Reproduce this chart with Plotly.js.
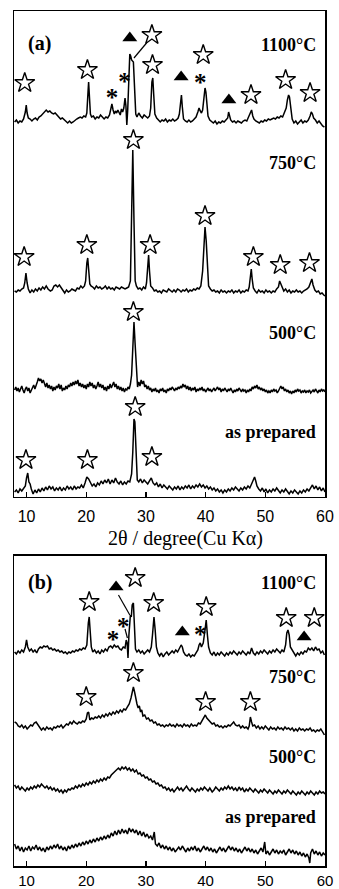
<!DOCTYPE html>
<html><head><meta charset="utf-8">
<script src="https://cdn.plot.ly/plotly-3.0.1.min.js"></script>
<style>html,body{margin:0;padding:0;background:#fff}#chart{width:339px;height:889px}</style>
</head><body><div id="chart"></div>
<script>
// ---- data (2θ in degrees, intensity in arbitrary units relative to each pattern's baseline) ----
const angleTicks = [10, 20, 30, 40, 50, 60];
const sampleLabels = ['1100°C', '750°C', '500°C', 'as prepared'];
const axisTitle = '2θ / degree(Cu Kα)';

// panel (a)
const a1100 = [[8.0,0],[8.3,2],[8.6,-1],[8.9,1],[9.2,0],[9.5,3],[9.8,10],[9.95,17],[10.1,9],[10.3,4],[10.6,3],[10.9,1],[11.2,3],[11.5,4],[11.8,2],[12.1,5],[12.4,6],[12.7,8],[13.0,11],[13.3,12],[13.6,10],[13.9,11],[14.2,9],[14.5,8],[14.8,9],[15.1,7],[15.4,6],[15.7,3],[16.0,4],[16.3,2],[16.6,0],[16.9,-1],[17.2,1],[17.5,-1],[17.8,0],[18.1,2],[18.4,3],[18.7,4],[19.0,5],[19.3,4],[19.6,6],[19.9,5],[20.1,9],[20.3,30],[20.4,40],[20.55,24],[20.7,8],[20.9,5],[21.2,6],[21.5,3],[21.8,5],[22.1,4],[22.4,7],[22.7,5],[23.0,3],[23.3,5],[23.6,4],[23.9,7],[24.1,12],[24.3,18],[24.5,12],[24.7,8],[24.9,11],[25.1,9],[25.3,12],[25.5,10],[25.7,7],[25.9,13],[26.1,10],[26.3,14],[26.5,24],[26.65,16],[26.8,-3],[26.95,12],[27.1,45],[27.3,68],[27.45,66],[27.6,62],[27.9,60],[28.1,35],[28.3,8],[28.5,5],[28.8,9],[29.1,6],[29.4,4],[29.7,7],[30.0,5],[30.3,4],[30.6,6],[30.8,14],[31.0,40],[31.15,44],[31.3,28],[31.5,8],[31.8,4],[32.1,2],[32.4,0],[32.7,2],[33.0,1],[33.3,3],[33.6,0],[33.9,2],[34.2,1],[34.5,3],[34.8,1],[35.1,2],[35.4,4],[35.6,8],[35.8,24],[35.95,27],[36.1,15],[36.3,3],[36.6,1],[36.9,0],[37.2,2],[37.5,0],[37.8,1],[38.1,3],[38.4,5],[38.7,10],[38.9,14],[39.1,11],[39.3,9],[39.5,12],[39.7,22],[39.9,34],[40.05,30],[40.2,16],[40.4,6],[40.7,2],[41.0,0],[41.3,-1],[41.6,1],[41.9,-2],[42.2,0],[42.5,-1],[42.8,1],[43.1,0],[43.4,2],[43.7,4],[43.85,10],[44.0,6],[44.2,2],[44.5,0],[44.8,1],[45.1,-1],[45.4,1],[45.7,0],[46.0,-1],[46.3,1],[46.6,2],[46.9,1],[47.2,5],[47.5,10],[47.7,12],[47.9,6],[48.1,3],[48.4,1],[48.7,0],[49.0,-1],[49.3,1],[49.6,0],[49.9,2],[50.2,1],[50.5,3],[50.8,2],[51.1,3],[51.4,4],[51.7,3],[52.0,5],[52.3,4],[52.6,6],[52.9,5],[53.2,10],[53.5,14],[53.7,22],[53.9,27],[54.05,25],[54.25,12],[54.5,3],[54.8,-1],[55.1,1],[55.4,-2],[55.7,0],[56.0,2],[56.3,-1],[56.6,1],[56.9,0],[57.2,2],[57.5,6],[57.7,10],[57.9,8],[58.1,4],[58.4,2],[58.7,-1],[59.0,1],[59.3,-2],[59.6,-4],[59.9,-5]];
const a750 = [[8.0,0],[8.3,-1],[8.6,1],[8.9,0],[9.2,2],[9.5,3],[9.7,8],[9.9,18],[10.1,8],[10.3,2],[10.6,-2],[10.9,1],[11.2,-1],[11.5,2],[11.8,0],[12.1,3],[12.4,1],[12.7,4],[13.0,2],[13.3,5],[13.6,2],[14.0,0],[14.3,1],[14.6,5],[14.9,6],[15.2,4],[15.5,6],[15.8,3],[16.1,0],[16.4,-2],[16.7,1],[17.0,-1],[17.3,0],[17.6,2],[17.9,1],[18.2,0],[18.5,3],[18.8,2],[19.1,5],[19.4,3],[19.7,5],[19.9,10],[20.1,28],[20.25,33],[20.4,22],[20.6,7],[20.8,5],[21.1,4],[21.4,2],[21.7,5],[22.0,3],[22.3,4],[22.6,2],[22.9,3],[23.2,5],[23.5,2],[23.8,4],[24.1,2],[24.4,3],[24.7,1],[25.0,4],[25.3,3],[25.6,2],[25.9,4],[26.2,3],[26.5,2],[26.8,3],[27.1,4],[27.4,10],[27.6,70],[27.8,141],[28.0,70],[28.2,10],[28.4,5],[28.7,2],[29.0,3],[29.3,1],[29.6,4],[29.9,2],[30.1,8],[30.3,30],[30.45,36],[30.6,20],[30.8,5],[31.1,3],[31.4,0],[31.7,1],[32.0,-1],[32.3,0],[32.6,-2],[32.9,1],[33.2,0],[33.5,-1],[33.8,2],[34.1,0],[34.4,-1],[34.7,1],[35.0,-1],[35.3,2],[35.6,1],[35.9,-1],[36.2,1],[36.5,0],[36.8,2],[37.1,-1],[37.4,1],[37.7,0],[38.0,2],[38.3,1],[38.6,3],[38.9,2],[39.2,5],[39.5,20],[39.7,50],[39.9,64],[40.1,50],[40.3,20],[40.5,5],[40.8,2],[41.1,0],[41.4,1],[41.7,-1],[42.0,0],[42.3,-2],[42.6,1],[42.9,-1],[43.2,0],[43.5,-2],[43.8,0],[44.1,-1],[44.4,1],[44.7,-2],[45.0,0],[45.3,-1],[45.6,1],[45.9,-2],[46.2,0],[46.5,-1],[46.8,1],[47.1,0],[47.3,4],[47.5,18],[47.65,22],[47.8,12],[48.0,3],[48.3,0],[48.6,-2],[48.9,1],[49.2,-1],[49.5,0],[49.8,-2],[50.1,1],[50.4,-1],[50.7,0],[51.0,-2],[51.3,0],[51.6,-1],[51.9,2],[52.2,4],[52.4,10],[52.6,7],[52.8,3],[53.1,0],[53.4,2],[53.7,-1],[54.0,1],[54.3,-2],[54.6,0],[54.9,-1],[55.2,1],[55.5,-1],[55.8,0],[56.1,-2],[56.4,0],[56.7,1],[57.0,2],[57.3,4],[57.6,10],[57.8,12],[58.0,6],[58.3,1],[58.6,-1],[58.9,0],[59.2,-3],[59.5,-2],[59.8,-4],[60.0,-5]];
const a500 = [[8.0,0],[8.2,3],[8.4,-1],[8.6,2],[8.8,-2],[9.0,1],[9.2,4],[9.4,0],[9.6,-3],[9.8,1],[10.0,3],[10.2,-1],[10.4,2],[10.6,-3],[10.8,0],[11.0,2],[11.2,5],[11.4,1],[11.6,4],[11.8,8],[12.0,12],[12.2,9],[12.4,11],[12.6,7],[12.8,10],[13.0,6],[13.2,3],[13.4,7],[13.6,2],[13.8,5],[14.0,1],[14.2,4],[14.4,-1],[14.6,3],[14.8,0],[15.0,4],[15.2,2],[15.4,6],[15.6,1],[15.8,5],[16.0,-1],[16.2,2],[16.4,0],[16.6,4],[16.8,1],[17.0,5],[17.2,3],[17.4,7],[17.6,4],[17.8,8],[18.0,5],[18.2,9],[18.4,6],[18.6,10],[18.8,4],[19.0,7],[19.2,3],[19.4,6],[19.6,2],[19.8,5],[20.0,1],[20.2,6],[20.4,3],[20.6,8],[20.8,4],[21.0,7],[21.2,2],[21.4,5],[21.6,1],[21.8,4],[22.0,8],[22.2,3],[22.4,6],[22.6,2],[22.8,5],[23.0,0],[23.2,3],[23.4,-1],[23.6,4],[23.8,1],[24.0,6],[24.2,2],[24.4,5],[24.6,8],[24.8,3],[25.0,6],[25.2,1],[25.4,4],[25.6,0],[25.8,3],[26.0,-1],[26.2,2],[26.4,-2],[26.6,1],[26.8,0],[27.0,3],[27.2,1],[27.4,6],[27.6,15],[27.8,45],[28.0,68],[28.2,45],[28.4,15],[28.6,3],[28.8,8],[29.0,4],[29.2,10],[29.4,6],[29.6,9],[29.8,3],[30.0,5],[30.2,1],[30.4,4],[30.6,0],[30.8,2],[31.0,-2],[31.2,1],[31.4,-1],[31.6,2],[31.8,-2],[32.0,0],[32.2,-3],[32.4,1],[32.6,-1],[32.8,2],[33.0,-2],[33.2,0],[33.4,-3],[33.6,1],[33.8,-1],[34.0,2],[34.2,0],[34.4,3],[34.6,1],[34.8,-1],[35.0,2],[35.2,0],[35.4,3],[35.6,1],[35.8,4],[36.0,2],[36.2,6],[36.4,3],[36.6,5],[36.8,1],[37.0,4],[37.2,0],[37.4,3],[37.6,-1],[37.8,2],[38.0,0],[38.2,3],[38.4,-2],[38.6,1],[38.8,-1],[39.0,2],[39.2,0],[39.4,3],[39.6,-1],[39.8,1],[40.0,-2],[40.2,0],[40.4,2],[40.6,-1],[40.8,1],[41.0,-2],[41.2,0],[41.4,2],[41.6,-1],[41.8,1],[42.0,3],[42.2,0],[42.4,2],[42.6,-2],[42.8,1],[43.0,-1],[43.2,2],[43.4,0],[43.6,-2],[43.8,1],[44.0,-1],[44.2,2],[44.4,0],[44.6,-3],[44.8,0],[45.0,-2],[45.2,1],[45.4,-1],[45.6,2],[45.8,0],[46.0,-2],[46.2,1],[46.4,-1],[46.6,0],[46.8,-3],[47.0,0],[47.2,-2],[47.4,1],[47.6,-1],[47.8,3],[48.0,1],[48.2,4],[48.4,2],[48.6,5],[48.8,1],[49.0,3],[49.2,0],[49.4,2],[49.6,-1],[49.8,1],[50.0,-2],[50.2,0],[50.4,-3],[50.6,-1],[50.8,-3],[51.0,0],[51.2,-2],[51.4,1],[51.6,-1],[51.8,0],[52.0,-3],[52.2,-1],[52.4,2],[52.6,4],[52.8,1],[53.0,3],[53.2,-1],[53.4,1],[53.6,-2],[53.8,0],[54.0,-3],[54.2,-1],[54.4,-4],[54.6,-1],[54.8,-3],[55.0,0],[55.2,-2],[55.4,1],[55.6,-1],[55.8,0],[56.0,-3],[56.2,-1],[56.4,-2],[56.6,0],[56.8,-3],[57.0,-1],[57.2,-2],[57.4,0],[57.6,-3],[57.8,-1],[58.0,0],[58.2,-2],[58.4,1],[58.6,-1],[58.8,-3],[59.0,0],[59.2,-2],[59.4,1],[59.6,-1],[59.8,0],[60.0,-2]];
const aPrep = [[8.0,0],[8.3,2],[8.6,-1],[8.9,3],[9.2,1],[9.5,4],[9.8,6],[10.0,14],[10.2,19],[10.4,10],[10.6,8],[10.8,3],[11.1,-2],[11.4,2],[11.7,-1],[12.0,3],[12.3,0],[12.6,4],[12.9,1],[13.2,5],[13.5,2],[13.8,6],[14.1,3],[14.4,5],[14.7,1],[15.0,4],[15.3,2],[15.6,5],[15.9,1],[16.2,4],[16.5,2],[16.8,6],[17.1,3],[17.4,5],[17.7,2],[18.0,6],[18.3,3],[18.6,5],[18.9,4],[19.2,7],[19.5,4],[19.8,9],[20.1,15],[20.4,13],[20.7,9],[21.0,6],[21.3,8],[21.6,5],[21.9,9],[22.2,7],[22.5,11],[22.8,8],[23.1,12],[23.4,9],[23.7,13],[24.0,8],[24.3,12],[24.6,9],[24.9,14],[25.2,10],[25.5,8],[25.8,11],[26.1,7],[26.4,10],[26.7,8],[27.0,11],[27.3,10],[27.6,18],[27.8,40],[28.0,73],[28.15,70],[28.35,30],[28.55,12],[28.8,10],[29.1,13],[29.4,9],[29.7,12],[30.0,10],[30.3,8],[30.6,11],[30.9,14],[31.2,9],[31.5,7],[31.8,9],[32.1,5],[32.4,8],[32.7,4],[33.0,7],[33.3,5],[33.6,3],[33.9,6],[34.2,4],[34.5,2],[34.8,5],[35.1,3],[35.4,6],[35.7,2],[36.0,5],[36.3,3],[36.6,6],[36.9,4],[37.2,7],[37.5,3],[37.8,6],[38.1,4],[38.4,7],[38.7,5],[39.0,8],[39.3,5],[39.6,7],[39.9,4],[40.2,6],[40.5,3],[40.8,5],[41.1,2],[41.4,4],[41.7,1],[42.0,3],[42.3,0],[42.6,2],[42.9,-1],[43.2,2],[43.5,0],[43.8,3],[44.1,1],[44.4,4],[44.7,2],[45.0,5],[45.3,3],[45.6,1],[45.9,4],[46.2,2],[46.5,5],[46.8,3],[47.1,6],[47.4,4],[47.7,8],[48.0,13],[48.2,15],[48.4,11],[48.6,6],[48.9,3],[49.2,1],[49.5,4],[49.8,0],[50.1,3],[50.4,-1],[50.7,2],[51.0,0],[51.3,3],[51.6,1],[51.9,4],[52.2,2],[52.5,-1],[52.8,2],[53.1,0],[53.4,3],[53.7,1],[54.0,-2],[54.3,1],[54.6,-1],[54.9,2],[55.2,0],[55.5,-2],[55.8,1],[56.1,-1],[56.4,2],[56.7,0],[57.0,3],[57.3,1],[57.6,4],[57.9,7],[58.2,3],[58.5,6],[58.8,2],[59.1,5],[59.4,1],[59.7,4],[60.0,0]];

// panel (b)
const b1100 = [[8.0,3],[8.3,1],[8.6,4],[8.9,2],[9.2,5],[9.5,3],[9.8,8],[10.0,15],[10.2,8],[10.5,4],[10.8,6],[11.1,3],[11.4,5],[11.7,2],[12.0,6],[12.3,8],[12.6,7],[12.9,9],[13.2,8],[13.5,9],[13.8,6],[14.1,7],[14.4,5],[14.7,6],[15.0,4],[15.3,5],[15.6,3],[15.9,4],[16.2,2],[16.5,3],[16.8,1],[17.1,3],[17.4,2],[17.7,4],[18.0,3],[18.3,5],[18.6,4],[18.9,6],[19.2,5],[19.5,7],[19.8,6],[20.1,10],[20.35,32],[20.5,38],[20.65,25],[20.85,8],[21.1,3],[21.4,5],[21.7,2],[22.0,4],[22.3,1],[22.6,5],[22.9,3],[23.2,6],[23.5,4],[23.8,8],[24.1,9],[24.4,7],[24.7,10],[25.0,8],[25.3,9],[25.6,6],[25.9,5],[26.2,8],[26.5,7],[26.7,15],[26.85,12],[27.0,-3],[27.15,20],[27.4,40],[27.55,38],[27.7,50],[27.9,52],[28.05,30],[28.25,6],[28.5,3],[28.8,5],[29.1,2],[29.4,4],[29.7,1],[30.0,3],[30.3,5],[30.6,3],[30.9,8],[31.1,20],[31.35,38],[31.55,25],[31.75,8],[32.0,2],[32.3,-1],[32.6,2],[32.9,-2],[33.2,1],[33.5,3],[33.8,0],[34.1,2],[34.4,4],[34.7,2],[35.0,5],[35.3,3],[35.6,6],[35.9,10],[36.1,8],[36.3,3],[36.6,0],[36.9,-1],[37.2,1],[37.5,-2],[37.8,0],[38.1,-1],[38.4,2],[38.7,5],[38.9,10],[39.1,12],[39.3,8],[39.6,12],[39.9,25],[40.1,35],[40.3,20],[40.5,8],[40.8,2],[41.1,0],[41.4,3],[41.7,-1],[42.0,2],[42.3,0],[42.6,3],[42.9,1],[43.2,-1],[43.5,2],[43.8,0],[44.1,3],[44.4,1],[44.7,4],[45.0,2],[45.3,0],[45.6,3],[45.9,1],[46.2,4],[46.5,2],[46.8,0],[47.1,3],[47.4,1],[47.7,7],[48.0,2],[48.3,0],[48.6,3],[48.9,1],[49.2,4],[49.5,2],[49.8,5],[50.1,3],[50.4,1],[50.7,4],[51.0,2],[51.3,5],[51.6,3],[51.9,6],[52.2,4],[52.5,2],[52.8,5],[53.1,3],[53.4,10],[53.6,22],[53.8,25],[54.0,20],[54.2,8],[54.5,5],[54.8,2],[55.1,-1],[55.4,2],[55.7,0],[56.0,3],[56.3,1],[56.6,4],[56.9,3],[57.2,7],[57.5,5],[57.8,7],[58.1,4],[58.4,8],[58.7,5],[59.0,6],[59.3,2],[59.6,4],[59.9,0]];
const b750 = [[8.0,6],[8.3,5],[8.6,2],[8.9,1],[9.2,3],[9.5,0],[9.8,2],[10.1,-1],[10.4,1],[10.7,3],[11.0,2],[11.3,5],[11.6,6],[11.9,3],[12.2,1],[12.5,-2],[12.8,0],[13.1,-2],[13.4,1],[13.7,-1],[14.0,0],[14.3,-2],[14.6,1],[14.9,0],[15.2,2],[15.5,1],[15.8,3],[16.1,0],[16.4,2],[16.7,4],[17.0,3],[17.3,6],[17.6,4],[17.9,7],[18.2,5],[18.5,4],[18.8,6],[19.1,5],[19.4,7],[19.7,6],[20.0,9],[20.2,15],[20.4,16],[20.6,8],[20.9,10],[21.2,9],[21.5,11],[21.8,10],[22.1,12],[22.4,10],[22.7,13],[23.0,11],[23.3,14],[23.6,12],[23.9,15],[24.2,13],[24.5,16],[24.8,14],[25.1,17],[25.4,15],[25.7,18],[26.0,16],[26.3,19],[26.6,18],[26.9,21],[27.2,24],[27.5,30],[27.7,36],[27.9,41],[28.1,36],[28.3,28],[28.5,24],[28.7,20],[28.9,22],[29.1,16],[29.3,18],[29.5,12],[29.8,13],[30.1,9],[30.4,10],[30.7,7],[31.0,8],[31.3,5],[31.6,6],[31.9,3],[32.2,4],[32.5,2],[32.8,3],[33.1,1],[33.4,3],[33.7,2],[34.0,4],[34.3,2],[34.6,3],[34.9,1],[35.2,4],[35.5,2],[35.8,3],[36.1,1],[36.4,4],[36.7,2],[37.0,3],[37.3,1],[37.6,4],[37.9,2],[38.2,3],[38.5,2],[38.8,5],[39.1,4],[39.4,7],[39.7,11],[39.95,13],[40.2,10],[40.5,8],[40.8,6],[41.1,4],[41.4,5],[41.7,2],[42.0,3],[42.3,1],[42.6,2],[42.9,0],[43.2,2],[43.5,1],[43.8,3],[44.1,2],[44.4,4],[44.7,6],[45.0,3],[45.3,2],[45.6,3],[45.9,0],[46.2,2],[46.5,0],[46.8,1],[47.1,-1],[47.3,2],[47.5,11],[47.7,6],[47.9,2],[48.2,3],[48.5,0],[48.8,2],[49.1,-1],[49.4,1],[49.7,-1],[50.0,2],[50.3,0],[50.6,-2],[50.9,1],[51.2,-1],[51.5,0],[51.8,-2],[52.1,1],[52.4,-1],[52.7,0],[53.0,-2],[53.3,1],[53.6,-1],[53.9,0],[54.2,-2],[54.5,0],[54.8,-3],[55.1,-1],[55.4,-3],[55.7,0],[56.0,-2],[56.3,-1],[56.6,-3],[56.9,-1],[57.2,-2],[57.5,0],[57.8,-3],[58.1,-2],[58.4,-4],[58.7,-2],[59.0,-3],[59.3,-1],[59.6,-4],[59.9,-7]];
const b500 = [[8.0,5],[8.3,2],[8.6,4],[8.9,0],[9.2,3],[9.5,1],[9.8,-1],[10.1,2],[10.4,0],[10.7,3],[11.0,1],[11.3,4],[11.6,2],[11.9,5],[12.2,3],[12.5,6],[12.8,4],[13.1,2],[13.4,4],[13.7,1],[14.0,3],[14.3,0],[14.6,2],[14.9,-1],[15.2,1],[15.5,-2],[15.8,0],[16.1,-3],[16.4,0],[16.7,-2],[17.0,1],[17.3,0],[17.6,2],[17.9,1],[18.2,4],[18.5,2],[18.8,5],[19.1,3],[19.4,6],[19.7,4],[20.0,7],[20.3,5],[20.6,8],[20.9,6],[21.2,9],[21.5,7],[21.8,10],[22.1,8],[22.4,11],[22.7,9],[23.0,12],[23.3,10],[23.6,13],[23.9,12],[24.2,15],[24.5,17],[24.8,19],[25.1,21],[25.4,22],[25.7,20],[26.0,23],[26.3,21],[26.6,23],[26.9,20],[27.2,22],[27.5,19],[27.8,21],[28.1,18],[28.4,20],[28.7,16],[29.0,17],[29.3,14],[29.6,15],[29.9,12],[30.2,13],[30.5,10],[30.8,11],[31.1,8],[31.4,9],[31.7,6],[32.0,7],[32.3,4],[32.6,5],[32.9,2],[33.2,3],[33.5,0],[33.8,2],[34.1,-1],[34.4,1],[34.7,-2],[35.0,1],[35.3,3],[35.6,0],[35.9,2],[36.2,-1],[36.5,1],[36.8,4],[37.1,1],[37.4,-1],[37.7,2],[38.0,0],[38.3,-2],[38.6,1],[38.9,-1],[39.2,2],[39.5,0],[39.8,3],[40.1,1],[40.4,-1],[40.7,2],[41.1,-2],[41.4,0],[41.7,3],[42.0,1],[42.3,-1],[42.6,2],[42.9,0],[43.2,3],[43.5,1],[43.8,4],[44.1,1],[44.4,3],[44.7,0],[45.0,2],[45.3,-1],[45.6,3],[45.9,0],[46.2,2],[46.5,-2],[46.8,1],[47.1,-1],[47.4,2],[47.7,0],[48.0,-2],[48.3,1],[48.6,-1],[48.9,-3],[49.2,0],[49.5,-2],[49.8,1],[50.1,-1],[50.4,-3],[50.7,0],[51.0,-2],[51.3,-4],[51.6,-1],[51.9,-3],[52.2,0],[52.5,-2],[52.8,-4],[53.1,-1],[53.4,-3],[53.7,0],[54.0,-2],[54.3,-4],[54.6,-1],[54.9,-3],[55.2,-5],[55.5,-2],[55.8,-4],[56.1,-1],[56.4,-3],[56.7,-5],[57.0,-2],[57.3,-4],[57.6,-1],[57.9,-3],[58.2,-5],[58.5,-2],[58.8,-4],[59.1,-1],[59.4,-3],[59.7,-2],[60.0,-4]];
const bPrep = [[8.0,8],[8.3,3],[8.6,6],[8.9,1],[9.2,5],[9.5,0],[9.8,4],[10.1,2],[10.4,6],[10.7,1],[11.0,5],[11.3,3],[11.6,7],[11.9,2],[12.2,5],[12.5,1],[12.8,4],[13.1,0],[13.4,5],[13.7,2],[14.0,6],[14.3,3],[14.6,7],[14.9,4],[15.2,8],[15.5,3],[15.8,6],[16.1,2],[16.4,5],[16.7,1],[17.0,6],[17.3,3],[17.6,7],[17.9,4],[18.2,8],[18.5,5],[18.8,9],[19.1,6],[19.4,10],[19.7,7],[20.0,11],[20.3,8],[20.6,12],[20.9,9],[21.2,13],[21.5,10],[21.8,14],[22.1,11],[22.4,15],[22.7,12],[23.0,16],[23.3,13],[23.6,17],[23.9,14],[24.2,19],[24.5,16],[24.8,21],[25.1,17],[25.4,22],[25.7,18],[26.0,23],[26.3,19],[26.6,22],[26.9,18],[27.2,24],[27.5,20],[27.8,23],[28.1,19],[28.4,22],[28.7,17],[29.0,21],[29.3,16],[29.6,20],[29.9,15],[30.2,18],[30.5,14],[30.8,16],[31.1,12],[31.4,20],[31.6,8],[31.9,6],[32.2,9],[32.5,4],[32.8,7],[33.1,3],[33.4,6],[33.7,2],[34.0,5],[34.3,1],[34.6,4],[34.9,0],[35.2,3],[35.5,5],[35.8,2],[36.1,6],[36.4,3],[36.7,0],[37.0,4],[37.3,1],[37.6,5],[37.9,2],[38.2,6],[38.5,1],[38.8,4],[39.1,0],[39.4,3],[39.7,6],[40.0,2],[40.3,5],[40.6,1],[40.9,4],[41.2,0],[41.5,3],[41.8,-1],[42.1,2],[42.4,5],[42.7,1],[43.0,4],[43.3,0],[43.6,3],[43.9,6],[44.2,2],[44.5,5],[44.8,1],[45.1,4],[45.4,0],[45.7,3],[46.0,-1],[46.3,2],[46.6,5],[46.9,1],[47.2,4],[47.5,0],[47.8,3],[48.1,-1],[48.4,2],[48.7,-2],[49.0,1],[49.3,4],[49.6,0],[49.9,10],[50.1,-2],[50.4,1],[50.7,-3],[51.0,0],[51.3,3],[51.6,-1],[51.9,2],[52.2,-2],[52.5,1],[52.8,-1],[53.1,2],[53.4,-3],[53.7,0],[54.0,3],[54.3,-1],[54.6,2],[54.9,-2],[55.2,1],[55.5,-3],[55.8,0],[56.1,-4],[56.4,-1],[56.7,-5],[57.0,-2],[57.3,-6],[57.45,-11],[57.6,-1],[57.9,3],[58.2,-2],[58.5,1],[58.8,-3],[59.1,0],[59.4,-4],[59.7,-1],[60.0,-3]];

// peak markers: [pattern index (0=1100,1=750,2=500,3=as prepared), 2θ, height above baseline]
const starsA = [[0,9.7,39],[0,20.2,52],[0,31.1,57],[0,31.0,87],[0,39.6,67],[0,47.6,27],[0,53.4,42],[0,57.5,29],
  [1,9.6,34],[1,20.1,46],[1,27.9,151],[1,30.7,46],[1,39.9,75],[1,48.0,34],[1,52.5,26],[1,57.4,28],
  [2,27.9,78],
  [3,9.9,32],[3,20.2,32],[3,28.2,85],[3,31.0,35]];
const trianglesA = [[0,27.3,84],[0,35.9,45],[0,43.9,22]];
const asterisksA = [[0,24.3,29],[0,26.4,45],[0,39.1,44]];
const pointersA = [[[0,28.0,64],[0,30.1,79]]];

const starsB = [[0,20.5,53],[0,28.2,77],[0,31.3,52],[0,40.1,48],[0,53.5,37],[0,58.2,37],
  [1,20.0,31],[1,27.9,55],[1,40.0,26],[1,47.5,26]];
const trianglesB = [[0,25.0,68],[0,36.1,23],[0,56.5,18]];
const asterisksB = [[0,24.5,20],[0,26.2,33],[0,39.1,25]];
const pointersB = [[[0,25.4,60],[0,27.3,40]], [[0,26.5,26],[0,26.9,17]]];

// ---- layout constants ----
const offsetsA = [375, 206, 107, 5];
const offsetsB = [211, 138, 76, 14];
const labelYA = [452, 334, 164, 65];
const labelYB = [283, 189, 109, 49];

const traces = [];
function addPanel(series, offsets, stars, tris, asts, pointers, xa, ya) {
  series.forEach((s, i) => {
    traces.push({x: s.map(p => p[0]), y: s.map(p => p[1] + offsets[i]), xaxis: xa, yaxis: ya,
      mode: 'lines', line: {color: '#000', width: 1.5}, hoverinfo: 'skip'});
  });
  pointers.forEach(pt => {
    traces.push({x: pt.map(p => p[1]), y: pt.map(p => p[2] + offsets[p[0]]), xaxis: xa, yaxis: ya,
      mode: 'lines', line: {color: '#000', width: 1.2}, hoverinfo: 'skip'});
  });
  traces.push({x: stars.map(p => p[1]), y: stars.map(p => p[2] + offsets[p[0]]), xaxis: xa, yaxis: ya,
    mode: 'markers', marker: {symbol: 'star-open', size: 15, color: '#000', line: {color: '#000', width: 1.4}}, hoverinfo: 'skip'});
  traces.push({x: tris.map(p => p[1]), y: tris.map(p => p[2] + offsets[p[0]]), xaxis: xa, yaxis: ya,
    mode: 'markers', marker: {symbol: 'triangle-up', size: 13, color: '#000', line: {width: 0}}, hoverinfo: 'skip'});
  traces.push({x: asts.map(p => p[1]), y: asts.map(p => p[2] + offsets[p[0]] - 7), xaxis: xa, yaxis: ya,
    mode: 'text', text: asts.map(() => '<b>*</b>'), textposition: 'middle center',
    textfont: {family: 'Liberation Serif', size: 25, color: '#000'}, hoverinfo: 'skip'});
}
addPanel([a1100, a750, a500, aPrep], offsetsA, starsA, trianglesA, asterisksA, pointersA, 'x', 'y');
addPanel([b1100, b750, b500, bPrep], offsetsB, starsB, trianglesB, asterisksB, pointersB, 'x2', 'y2');

const labelFont = {family: 'Liberation Serif', size: 18, color: '#000'};
const annotations = [];
sampleLabels.forEach((t, i) => {
  annotations.push({xref: 'x', yref: 'y', x: 58.85, y: labelYA[i], text: '<b>' + t + '</b>', showarrow: false, xanchor: 'right', yanchor: 'middle', font: labelFont});
  annotations.push({xref: 'x2', yref: 'y2', x: 58.85, y: labelYB[i], text: '<b>' + t + '</b>', showarrow: false, xanchor: 'right', yanchor: 'middle', font: labelFont});
});
annotations.push({xref: 'x', yref: 'y', x: 9.9, y: 454, text: '<b>(a)</b>', showarrow: false, xanchor: 'left', yanchor: 'middle', font: {family: 'Liberation Serif', size: 20, color: '#000'}});
annotations.push({xref: 'x2', yref: 'y2', x: 9.9, y: 283, text: '<b>(b)</b>', showarrow: false, xanchor: 'left', yanchor: 'middle', font: {family: 'Liberation Serif', size: 20, color: '#000'}});
annotations.push({xref: 'x', yref: 'paper', x: 36.6, y: 0.3825, text: axisTitle, showarrow: false, xanchor: 'center', yanchor: 'middle', font: {family: 'Liberation Serif', size: 20, color: '#000'}});

const xBase = {range: [7.9, 60], tickvals: angleTicks, ticks: 'inside', ticklen: 5, tickwidth: 1.2, tickcolor: '#000',
  showline: true, mirror: true, linewidth: 1.5, linecolor: '#000', showgrid: false, zeroline: false,
  tickfont: {family: 'Liberation Sans', size: 16, color: '#000'}, ticklabelstandoff: 4, automargin: false, fixedrange: true};
const yBase = {showline: true, mirror: true, linewidth: 1.5, linecolor: '#000', showgrid: false, zeroline: false,
  showticklabels: false, ticks: '', automargin: false, fixedrange: true};

const layout = {
  width: 339, height: 889, margin: {l: 14, r: 14, t: 11, b: 23},
  paper_bgcolor: '#fff', plot_bgcolor: '#fff', showlegend: false,
  xaxis: Object.assign({}, xBase, {anchor: 'y'}),
  yaxis: Object.assign({}, yBase, {anchor: 'x', domain: [0.4316, 1], range: [0, 486]}),
  xaxis2: Object.assign({}, xBase, {anchor: 'y2', ticklabelstandoff: 0, tickfont: {family: 'Liberation Sans', size: 15, color: '#000'}}),
  yaxis2: Object.assign({}, yBase, {anchor: 'x2', domain: [0, 0.3626], range: [0, 310]}),
  annotations: annotations
};
Plotly.newPlot('chart', traces, layout, {staticPlot: true, displayModeBar: false});
</script>
</body></html>
